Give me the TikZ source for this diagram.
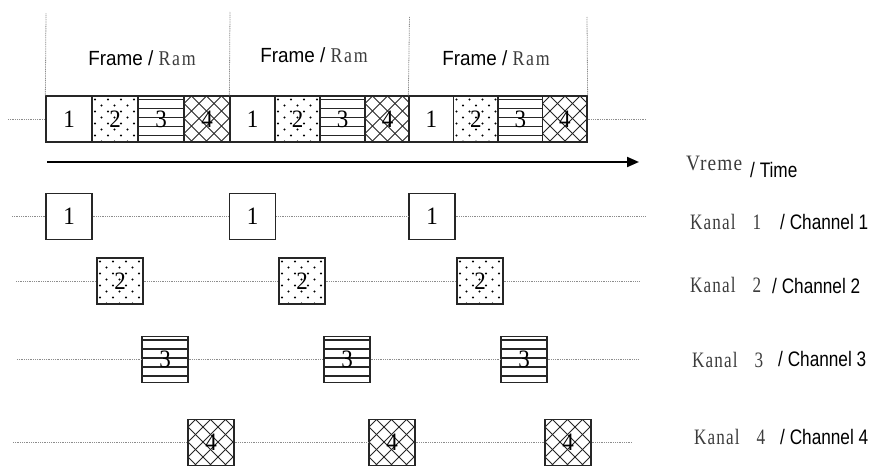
\documentclass[tikz,border=0pt]{standalone}
\usepackage{fontspec}
\setmainfont{Liberation Sans}
\newfontfamily\fsans[FakeStretch=0.92]{Liberation Sans}
\newfontfamily\lsans[FakeStretch=0.82]{Liberation Sans}
\newfontfamily\lserif[FakeStretch=0.78,LetterSpace=5]{Liberation Serif}
\newfontfamily\vserif[FakeStretch=0.88,LetterSpace=5]{Liberation Serif}
\newfontfamily\rserif[FakeStretch=0.85,LetterSpace=8]{Liberation Serif}
\newfontfamily\dserif[FakeStretch=0.92]{Liberation Serif}
\usetikzlibrary{arrows.meta,calc}
\definecolor{labgray}{HTML}{3C3C3C}
\definecolor{dotgray}{HTML}{8C8C8C}
\begin{document}
\begin{tikzpicture}[x=1pt,y=-1pt,
  slot/.style={draw=black!85, line width=1.3pt, minimum width=46pt, minimum height=46pt,
    inner sep=0pt, fill=white, font=\dserif\fontsize{25}{25}\selectfont},
  dotbox/.style={slot, path picture={
    \foreach \i in {0,...,7}{\foreach \j in {0,...,3}{
      \pgfmathsetmacro\xx{3+\j*13+mod(\i,2)*6.5}
      \pgfmathsetmacro\yy{3.5+\i*6}
      \fill[black] ($(path picture bounding box.north west)+(\xx pt,-\yy pt)$) circle (1.05pt);}}}},
  linebox/.style={slot, path picture={
    \foreach \k in {3.5,12.5,21.5,30.5,39.5}{
      \draw[line width=1.2pt, black!85] ($(path picture bounding box.north west)+(-2pt,-\k pt)$) -- ++(60pt,0pt);}}},
  hatchbox/.style={slot, path picture={
    \foreach \k in {-4,...,7}{
      \pgfmathsetmacro\xx{7.5+\k*15}
      \draw[line width=0.8pt, black!85] ($(path picture bounding box.north west)+(\xx pt,0pt)$) -- ++(50pt,-50pt);
      \draw[line width=0.8pt, black!85] ($(path picture bounding box.north west)+(\xx pt,0pt)$) -- ++(-50pt,-50pt);}}},
  dotline/.style={draw=dotgray, line width=0.8pt, dash pattern=on 1pt off 0.8pt},
  framelab/.style={inner sep=0pt, font=\fsans\fontsize{20.5}{22}\selectfont},
  kanal/.style={inner sep=0pt, anchor=west, text=labgray, font=\lserif\fontsize{22}{24}\selectfont},
  chan/.style={inner sep=0pt, anchor=west, font=\lsans\fontsize{21}{24}\selectfont}
]
\useasboundingbox (0,0) rectangle (873,468);

% ---- top row: frames ----
\node[slot,minimum width=46pt] (f1a) at (69,119) {1};
\node[dotbox,minimum width=46pt] (f1b) at (115,119) {2};
\node[linebox,minimum width=46pt] (f1c) at (161,119) {3};
\node[hatchbox,minimum width=46pt] (f1d) at (207,119) {4};
\node[slot,minimum width=45pt] (f2a) at (252.5,119) {1};
\node[dotbox,minimum width=45pt] (f2b) at (297.5,119) {2};
\node[linebox,minimum width=45pt] (f2c) at (342.5,119) {3};
\node[hatchbox,minimum width=45pt] (f2d) at (387.5,119) {4};
\node[slot,minimum width=44.5pt] (f3a) at (431.25,119) {1};
\node[dotbox,minimum width=44.5pt] (f3b) at (475.75,119) {2};
\node[linebox,minimum width=44.5pt] (f3c) at (520.25,119) {3};
\node[hatchbox,minimum width=44.5pt] (f3d) at (564.75,119) {4};

\coordinate (tl) at (8,119);
\coordinate (tr) at (647,119);
\draw[dotline] (tl) -- (f1a.west);
\draw[dotline] (f3d.east) -- (tr);

\coordinate (v1) at (46,13);
\coordinate (v2) at (230,12);
\coordinate (v3) at (409.5,17);
\coordinate (v4) at (587,17);
\draw[dotline] (f1a.north west) -- (v1);
\draw[dotline] (f2a.north west) -- (v2);
\draw[dotline] (f3a.north west) -- (v3);
\draw[dotline] (f3d.north east) -- (v4);

\node[framelab] (l1) at (142,58) {Frame / {\rserif\fontsize{21}{22}\selectfont\color{labgray}Ram}};
\node[framelab] (l2) at (314,55) {Frame / {\rserif\fontsize{21}{22}\selectfont\color{labgray}Ram}};
\node[framelab] (l3) at (496,58) {Frame / {\rserif\fontsize{21}{22}\selectfont\color{labgray}Ram}};

% ---- time arrow ----
\coordinate (as) at (47,162);
\coordinate (ae) at (639,162);
\draw[line width=2pt, -{Triangle[length=12pt,width=10pt]}] (as) -- (ae);
\node[inner sep=0pt, anchor=west, text=labgray, font=\vserif\fontsize{22}{24}\selectfont] (vr) at (686,163) {Vreme};
\node[chan] (tm) at (750,170) {/ Time};

% ---- channel 1 ----
\node[slot] (k1a) at (69,216.5) {1};
\node[slot] (k1b) at (252.5,216.5) {1};
\node[slot] (k1c) at (432,216.5) {1};
\coordinate (c1l) at (12,216.5);
\coordinate (c1r) at (645,216.5);
\draw[dotline] (c1l) -- (k1a.west) (k1a.east) -- (k1b.west) (k1b.east) -- (k1c.west) (k1c.east) -- (c1r);

% ---- channel 2 ----
\node[dotbox] (k2a) at (120,281) {2};
\node[dotbox] (k2b) at (302,281) {2};
\node[dotbox] (k2c) at (480,281) {2};
\coordinate (c2l) at (16,281);
\coordinate (c2r) at (640,281);
\draw[dotline] (c2l) -- (k2a.west) (k2a.east) -- (k2b.west) (k2b.east) -- (k2c.west) (k2c.east) -- (c2r);

% ---- channel 3 ----
\node[linebox] (k3a) at (165,359.5) {3};
\node[linebox] (k3b) at (347,359.5) {3};
\node[linebox] (k3c) at (524,359.5) {3};
\coordinate (c3l) at (17,359.5);
\coordinate (c3r) at (639,359.5);
\draw[dotline] (c3l) -- (k3a.west) (k3a.east) -- (k3b.west) (k3b.east) -- (k3c.west) (k3c.east) -- (c3r);

% ---- channel 4 ----
\node[hatchbox] (k4a) at (211,442.5) {4};
\node[hatchbox] (k4b) at (392,442.5) {4};
\node[hatchbox] (k4c) at (568,442.5) {4};
\coordinate (c4l) at (13,442.5);
\coordinate (c4r) at (633,442.5);
\draw[dotline] (c4l) -- (k4a.west) (k4a.east) -- (k4b.west) (k4b.east) -- (k4c.west) (k4c.east) -- (c4r);

% ---- labels ----
\node[kanal] (n1) at (690,222) {Kanal\hspace{17pt}1};
\node[chan] (h1) at (780,222) {/ Channel 1};
\node[kanal] (n2) at (690,285) {Kanal\hspace{17pt}2};
\node[chan] (h2) at (772,286) {/ Channel 2};
\node[kanal] (n3) at (692,360) {Kanal\hspace{17pt}3};
\node[chan] (h3) at (778,359) {/ Channel 3};
\node[kanal] (n4) at (694,437) {Kanal\hspace{17pt}4};
\node[chan] (h4) at (780,437) {/ Channel 4};
\end{tikzpicture}
\end{document}
